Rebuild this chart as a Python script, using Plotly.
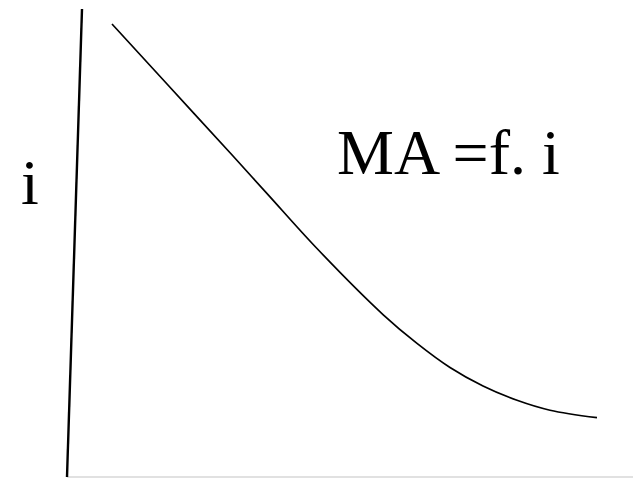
import plotly.graph_objects as go

# Demand-style curve: MA as a function of i (schematic units, 0-100 on each axis)
curve_x = [7.95, 17.67, 29.33, 35.51, 44.17, 55.83, 61.84, 67.67, 73.50, 79.51, 85.34, 93.64]
curve_y = [96.79, 83.97, 68.59, 60.34, 48.82, 34.72, 28.55, 23.40, 19.44, 16.39, 14.27, 12.67]

# Hand-drawn axes: a slightly leaning vertical axis and a flat base line
axis_v_x = [0.0, 2.65]
axis_v_y = [0.0, 100.0]
axis_h_x = [0.0, 100.0]
axis_h_y = [0.0, 0.0]

y_label = "i"
formula = "MA =f. i"

fig = go.Figure()

fig.add_trace(go.Scatter(
    x=axis_h_x, y=axis_h_y, mode="lines",
    line=dict(color="#c4c4c4", width=1.2),
    hoverinfo="skip", showlegend=False,
))
fig.add_trace(go.Scatter(
    x=axis_v_x, y=axis_v_y, mode="lines",
    line=dict(color="black", width=2.4),
    hoverinfo="skip", showlegend=False,
))
fig.add_trace(go.Scatter(
    x=curve_x, y=curve_y, mode="lines",
    line=dict(color="black", width=1.7, shape="spline", smoothing=1.0),
    hoverinfo="skip", showlegend=False,
))

serif = dict(family="Liberation Serif, Times New Roman, serif", size=64, color="black")

fig.add_annotation(
    x=-6.54, y=62.85, text=y_label, showarrow=False,
    xanchor="center", yanchor="middle", font=serif,
)
fig.add_annotation(
    x=47.3, y=69.3, text=formula, showarrow=False,
    xanchor="left", yanchor="middle", font=serif,
)

fig.update_layout(
    width=633, height=478,
    margin=dict(l=0, r=0, t=0, b=0),
    paper_bgcolor="white", plot_bgcolor="white",
    xaxis=dict(range=[-11.837, 100.0], visible=False, fixedrange=True),
    yaxis=dict(range=[-0.214, 101.923], visible=False, fixedrange=True),
    showlegend=False,
)

fig.write_html("out.html", config={"displayModeBar": False})
